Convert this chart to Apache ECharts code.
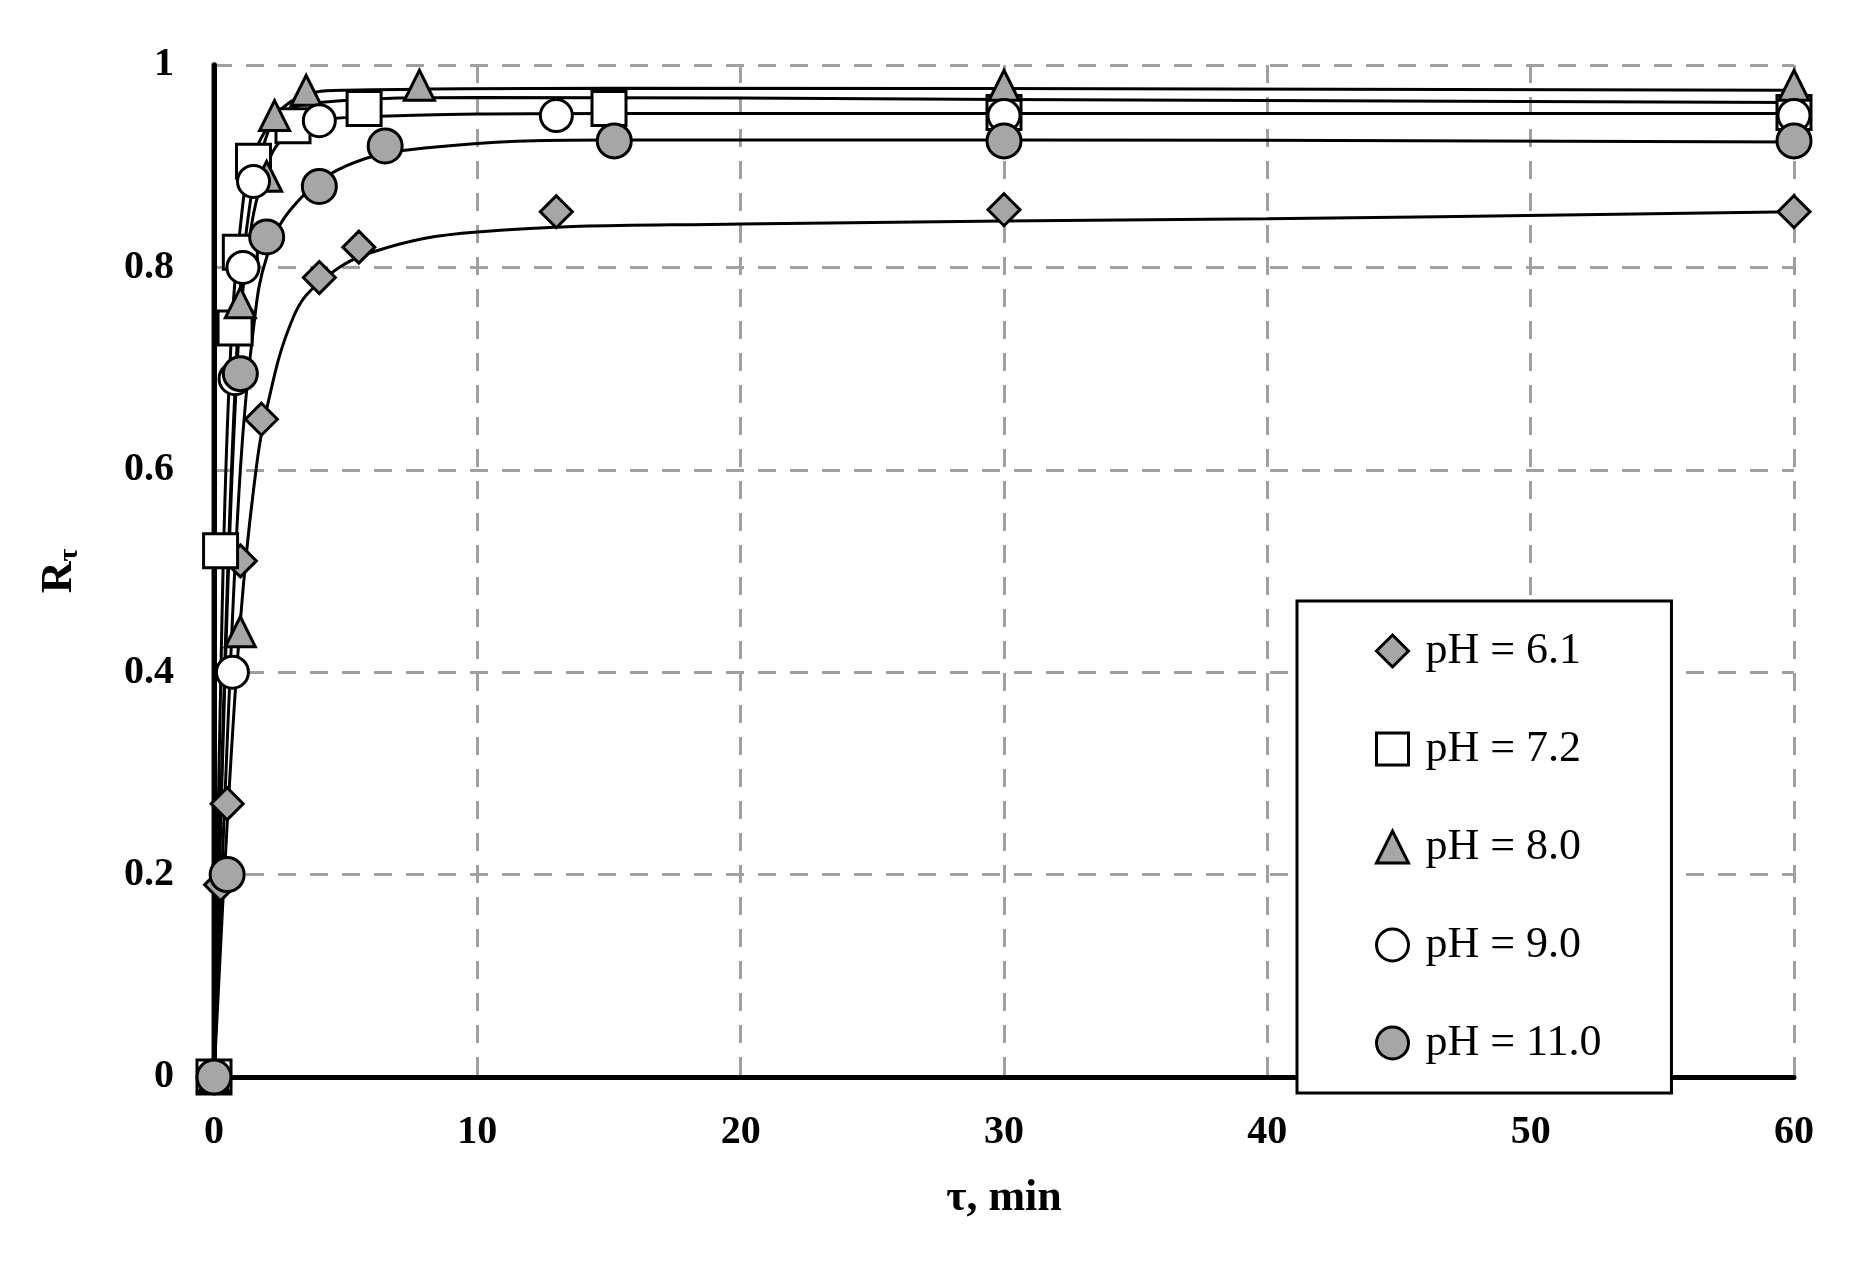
<!DOCTYPE html>
<html>
<head>
<meta charset="utf-8">
<script src="https://cdn.jsdelivr.net/npm/echarts@6/dist/echarts.min.js"></script>
<style>html,body{margin:0;background:#fff}#c{width:1854px;height:1262px}</style>
</head>
<body>
<div id="c"></div>
<script>
var names = ['pH = 6.1', 'pH = 7.2', 'pH = 8.0', 'pH = 9.0', 'pH = 11.0'];
var pts61 = [[0,0],[0.25,0.19],[0.5,0.27],[1,0.51],[1.8,0.65],[4,0.79],[5.5,0.82],[13,0.855],[30,0.857],[60,0.855]];
var pts72 = [[0,0],[0.25,0.52],[0.8,0.74],[1,0.815],[1.5,0.905],[3,0.94],[5.7,0.957],[15,0.957],[30,0.953],[60,0.953]];
var pts80 = [[0,0],[1,0.44],[1,0.765],[2,0.89],[2.3,0.95],[3.5,0.975],[7.8,0.98],[30,0.98],[60,0.98]];
var pts90 = [[0,0],[0.7,0.40],[0.8,0.69],[1.1,0.8],[1.5,0.885],[4,0.945],[13,0.95],[30,0.95],[60,0.95]];
var pts110 = [[0,0],[0.5,0.2],[1,0.695],[2,0.83],[4,0.88],[6.5,0.92],[15.2,0.925],[30,0.925],[60,0.925]];
// fitted curves
var fit61 = [[0,0],[0.5,0.25],[1,0.45],[1.5,0.58],[2,0.66],[3,0.75],[4,0.785],[6,0.815],[10,0.835],[20,0.843],[40,0.848],[60,0.855]];
var fit72 = [[0,0],[0.3,0.45],[0.6,0.7],[1,0.84],[1.5,0.91],[2.5,0.95],[4,0.963],[10,0.968],[30,0.966],[60,0.963]];
var fit80 = [[0,0],[0.4,0.4],[0.8,0.68],[1.2,0.83],[2,0.93],[3,0.965],[5,0.975],[15,0.977],[60,0.975]];
var fit90 = [[0,0],[0.4,0.38],[0.8,0.66],[1.2,0.8],[2,0.9],[3,0.935],[5,0.948],[15,0.952],[60,0.952]];
var fit110 = [[0,0],[0.5,0.33],[1,0.6],[1.5,0.74],[2,0.81],[3,0.86],[5,0.9],[8,0.918],[15,0.926],[30,0.926],[60,0.924]];

var pts = [pts61, pts72, pts80, pts90, pts110];
var fits = [fit61, fit72, fit80, fit90, fit110];
var symbols = ['diamond', 'rect', 'triangle', 'circle', 'circle'];
var fills = ['#a6a6a6', '#fff', '#a6a6a6', '#fff', '#a6a6a6'];
var sizes = [32, 34, 30, 32, 34];

var series = [];
fits.forEach(function (f) {
    series.push({type: 'line', data: f, smooth: 0.4, symbol: 'none', silent: true,
        lineStyle: {color: '#000', width: 3}, z: 2});
});
pts.forEach(function (p, i) {
    series.push({name: names[i], type: 'scatter', data: p, symbol: symbols[i], symbolSize: sizes[i],
        itemStyle: {color: fills[i], borderColor: '#000', borderWidth: 3, opacity: 1}, z: 3});
});

var font = 'Liberation Serif';
var frame = {show: true, lineStyle: {color: '#000', width: 5}};
var chart = echarts.init(document.getElementById('c'));
chart.setOption({
    animation: false,
    grid: {left: 214, right: 60, top: 65, bottom: 185},
    legend: {
        data: names.map(function (n, i) { return {name: n, itemStyle: {color: fills[i], borderColor: '#000', borderWidth: 3}}; }),
        orient: 'vertical', left: 1297, top: 601,
        padding: [28, 70, 28, 78], itemGap: 54, itemWidth: 32, itemHeight: 32,
        backgroundColor: '#fff', borderColor: '#000', borderWidth: 3,
        textStyle: {fontFamily: font, fontSize: 44, color: '#000', padding: [0, 0, 0, 12]}
    },
    xAxis: [{
        type: 'value', min: 0, max: 60, interval: 10,
        name: 'τ, min', nameLocation: 'middle', nameGap: 100,
        nameTextStyle: {fontFamily: font, fontSize: 44, fontWeight: 'bold', color: '#000'},
        axisLine: {lineStyle: {color: '#000', width: 4}},
        axisTick: {show: false},
        axisLabel: {fontFamily: font, fontSize: 40, fontWeight: 'bold', color: '#000', margin: 36},
        splitLine: {lineStyle: {color: '#a0a0a0', type: [18, 14], width: 3}}
    }, {
        type: 'value', position: 'top', min: 0, max: 60, axisLine: frame,
        axisTick: {show: false}, axisLabel: {show: false}, splitLine: {show: false}
    }],
    yAxis: [{
        type: 'value', min: 0, max: 1, interval: 0.2,
        name: '{a|R}{b|τ}', nameLocation: 'middle', nameGap: 130, nameRotate: 90,
        nameTextStyle: {rich: {
            a: {fontFamily: font, fontSize: 44, fontWeight: 'bold', color: '#000'},
            b: {fontFamily: font, fontSize: 28, fontWeight: 'bold', color: '#000', verticalAlign: 'bottom', padding: [20, 0, 0, 0]}
        }},
        axisLine: {lineStyle: {color: '#888', width: 6}},
        axisTick: {show: false},
        axisLabel: {fontFamily: font, fontSize: 40, fontWeight: 'bold', color: '#000', margin: 40,
            formatter: function (v) { return v === 0 || v === 1 ? String(v) : v.toFixed(1); }},
        splitLine: {lineStyle: {color: '#a0a0a0', type: [18, 14], width: 3}}
    }, {
        type: 'value', position: 'right', min: 0, max: 1, axisLine: frame,
        axisTick: {show: false}, axisLabel: {show: false}, splitLine: {show: false}
    }],
    series: series
});
</script>
</body>
</html>
